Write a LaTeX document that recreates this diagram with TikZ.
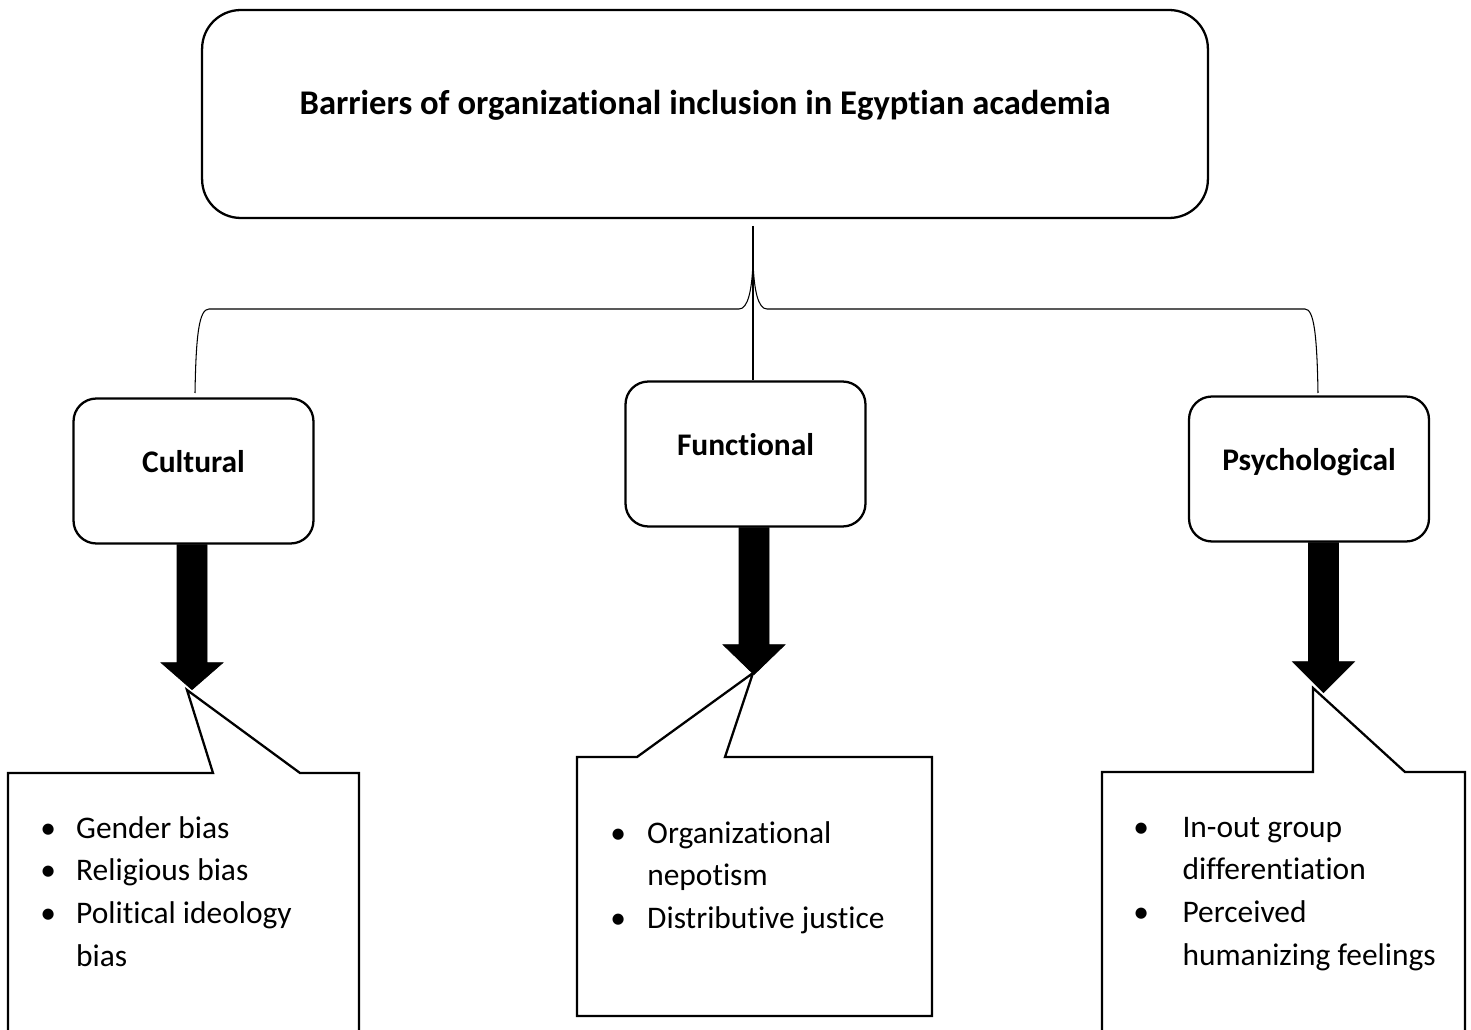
\documentclass[tikz,border=0pt]{standalone}
\usepackage{fontspec}
\setmainfont{Carlito}[Ligatures=NoCommon]
\usetikzlibrary{calc}
\definecolor{LineClr}{rgb}{0,0,0}

\newcommand\blist[2]{\begin{tabular}[t]{@{}p{#1}@{}l@{}}#2\end{tabular}}
\newcommand\fatarrow[3]{%
  \filldraw[line width=.4pt,LineClr] (#1) ++(-15,0) -- ++(30,0) -- ++(0,#2) -- ++(16,0)
    -- ++(-31,#3) -- ++(-31,-#3) -- ++(16,0) -- cycle;}

\tikzset{
  txt/.style={font=\fontsize{17.9}{24.4}\selectfont},
  mainbox/.style={font=\fontsize{19.7}{24.4}\selectfont,draw=LineClr,line width=1.3pt,rounded corners=22pt,
    minimum width=20.12cm,minimum height=4.16cm,text height=6pt,text depth=5pt},
  catbox/.style={txt,draw=LineClr,line width=1.3pt,rounded corners=13pt,
    minimum width=4.8cm,minimum height=2.9cm,text height=6pt,text depth=4pt},
  callout/.style={draw=LineClr,line width=1.3pt,fill=white,line join=miter},
  brace/.style={draw=LineClr,line width=.6pt},
  items/.style={txt,inner sep=0pt,anchor=base west}
}

\begin{document}
\begin{tikzpicture}[x=0.02cm,y=-0.02cm]
\useasboundingbox (0,0) rectangle (1471,1030);

\node[mainbox] (top) at (705,114)
  {\bfseries Barriers of organizational inclusion in Egyptian academia};

\node[catbox] (cul) at (193.5,471) {\bfseries Cultural};
\node[catbox] (fun) at (745.5,454) {\bfseries Functional};
\node[catbox] (psy) at (1309,469) {\bfseries Psychological};

\coordinate (bt) at (753,226);
\coordinate (bl) at (195,393);
\coordinate (br) at (1318,393);

\draw[brace] (bl) .. controls (196,335) and (199,309) .. (209,309) -- (739,309)
  .. controls (748,309) and (752,290) .. (753,262);
\draw[brace] (br) .. controls (1317,335) and (1314,309) .. (1305,309) -- (767,309)
  .. controls (758,309) and (754,290) .. (753,262);
\draw[brace] (bt) -- (bt |- fun.north);

\coordinate (culA) at ($(cul.south)+(-1.5,0)$);
\coordinate (funA) at ($(fun.south)+(8.5,0)$);
\coordinate (psyA) at ($(psy.south)+(14.5,0)$);

\coordinate (culTip) at (187,690);
\coordinate (funTip) at (753,673);
\coordinate (psyTip) at (1313,688);

\draw[callout] (8,773) -- (213,773) -- (culTip) -- (300,773) -- (359,773)
  -- (359,1045) -- (8,1045) -- cycle;
\draw[callout] (577,757) -- (637,757) -- (funTip) -- (725,757) -- (932,757)
  -- (932,1016) -- (577,1016) -- cycle;
\draw[callout] (1102,772) -- (1313,772) -- (psyTip) -- (1405,772) -- (1465,772)
  -- (1465,1045) -- (1102,1045) -- cycle;

\fatarrow{culA}{118}{27}
\fatarrow{funA}{117}{30}
\fatarrow{psyA}{119}{31}

\node[items] (culList) at (40,838) {\blist{20.4pt}{%
  \textbullet & Gender bias\\
  \textbullet & Religious bias\\
  \textbullet & Political ideology\\
              & bias}};
\node[items] (funList) at (610,843) {\blist{21pt}{%
  \textbullet & Organizational\\
              & nepotism\\
  \textbullet & Distributive justice}};
\node[items] (psyList) at (1133,837) {\blist{28pt}{%
  \textbullet & In-out group\\
              & differentiation\\
  \textbullet & Perceived\\
              & humanizing feelings}};

\end{tikzpicture}
\end{document}
